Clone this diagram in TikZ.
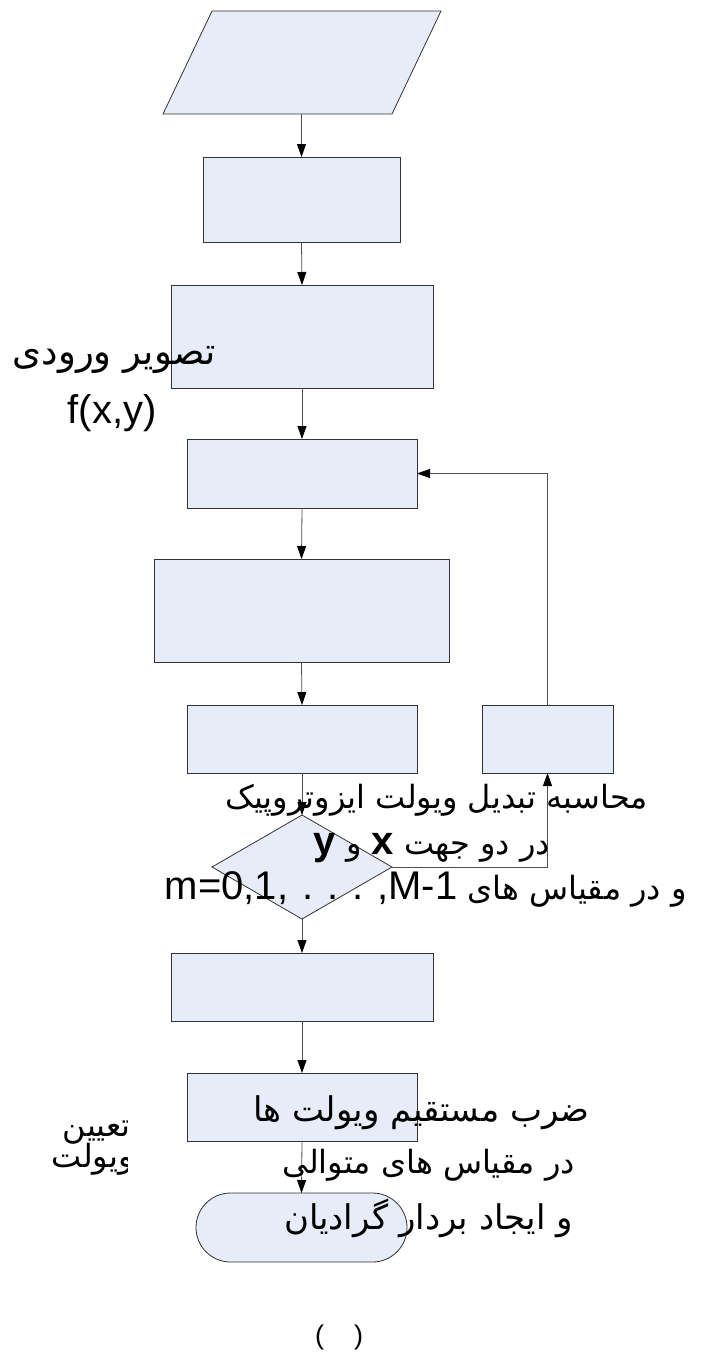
\documentclass[tikz,border=0pt]{standalone}
\usepackage{fontspec}
\setmainfont{Liberation Sans}
\newfontfamily\fa[Script=Arabic]{DejaVu Sans}
\newfontfamily\lat{Liberation Sans}
\TeXXeTstate=1
\usetikzlibrary{shapes.geometric,shapes.misc,arrows.meta}
\definecolor{boxfill}{RGB}{230,237,248}
\definecolor{edge}{RGB}{50,50,50}
\definecolor{wire}{RGB}{80,80,80}
\newcommand\latn[1]{{\lat\fontsize{40}{46}\selectfont #1}}
\tikzset{
  box/.style={draw=edge, fill=boxfill, line width=0.8pt, inner sep=0pt, outer sep=0pt},
  arr/.style={draw=wire, line width=0.8pt, -{Triangle[length=13pt,width=9pt,color=black]}},
  fatext/.style={inner sep=0pt, font=\fa\fontsize{32}{38}\selectfont},
  latext/.style={inner sep=0pt, font=\lat\fontsize{40}{46}\selectfont},
}
\begin{document}
\begin{tikzpicture}[x=1pt,y=-1pt]
\useasboundingbox (0,0) rectangle (706,1355);
% input parallelogram
\path[box] (163,114) -- (212,11) -- (441,11) -- (392,114) -- cycle;
\node[inner sep=0pt, minimum width=229pt, minimum height=103pt] (p) at (302,62.5) {};
% shapes
\node[box, minimum width=197pt, minimum height=85pt] (b2) at (301.5,199.5) {};
\node[box, minimum width=262pt, minimum height=103pt] (b3) at (302,336.5) {};
\node[box, minimum width=230pt, minimum height=69pt] (b4) at (302,473.5) {};
\node[box, minimum width=295pt, minimum height=103pt] (b5) at (301.5,610.5) {};
\node[box, minimum width=230pt, minimum height=68pt] (b6) at (302,739) {};
\node[box, minimum width=131pt, minimum height=68pt] (b7) at (547.5,739) {};
\node[box, diamond, minimum width=180pt, minimum height=104pt] (d) at (302,867) {};
\node[box, minimum width=262pt, minimum height=68pt] (b8) at (302,987) {};
\node[box, minimum width=230pt, minimum height=68pt] (b9) at (302,1107) {};
\node[box, rounded rectangle, minimum width=211pt, minimum height=69pt] (t) at (301.5,1227.5) {};
\coordinate (c1) at (547.5,867);
% connectors
\draw[arr] (b2.north |- p.south) -- (b2.north);
\draw[arr] (b2.south) -- (b3.north);
\draw[arr] (b3.south) -- (b4.north);
\draw[arr] (b4.south) -- (b5.north);
\draw[arr] (b5.south) -- (b6.north);
\draw[arr] (b6.south) -- (d.north);
\draw[arr] (d.south) -- (b8.north);
\draw[arr] (b8.south) -- (b9.north);
\draw[arr] (b9.south) -- (t.north);
\draw[arr] (d.east) -- (c1) -- (b7.south);
\draw[arr] (b7.north) |- (b4.east);
% texts
\node[fatext, font=\fa\fontsize{37}{42}\selectfont, anchor=east] (l1) at (216,360) {\beginR تصویر ورودی\endR};
\node[latext] (l2) at (112,413) {f(x,y)};
\node[fatext, anchor=east] (m1) at (648,800) {\beginR محاسبه تبدیل ویولت ایزوتروپیک\endR};
\node[fatext, anchor=east] (m2) at (550,848) {\beginR در دو جهت \beginL{\latn{\bfseries x}}\endL{} و \beginL{\latn{\bfseries y}}\endL\endR};
\node[fatext, anchor=east] (m3) at (687,889) {\beginR و در مقیاس های \beginL\latn{m=0,1,\hspace{14pt}.\hspace{14pt}.\hspace{14pt}.\hspace{14pt},M-1}\endL\endR};
\node[fatext, font=\fa\fontsize{34}{40}\selectfont, anchor=east] (r1) at (590,1113) {\beginR ضرب مستقیم ویولت ها\endR};
\node[fatext, anchor=east] (r2) at (575,1165) {\beginR در مقیاس های متوالی\endR};
\node[fatext, font=\fa\fontsize{34}{40}\selectfont, anchor=east] (r3) at (573,1218) {\beginR و ایجاد بردار گرادیان\endR};
\begin{scope}
  \clip (0,1100) rectangle (127,1185);
  \node[fatext, anchor=east] (s1) at (131,1133) {\beginR تعیین\endR};
  \node[fatext, anchor=east] (s2) at (134,1159) {\beginR ویولت\endR};
\end{scope}
\node[inner sep=0pt, font=\lat\fontsize{27}{32}\selectfont] (cap) at (339,1337) {(\hspace{30pt})};
\end{tikzpicture}
\end{document}
